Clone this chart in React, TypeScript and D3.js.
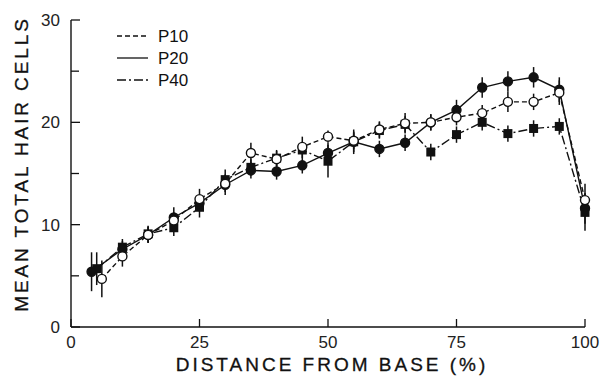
import React from "react";
import * as d3 from "d3";

const xTicks = [0, 25, 50, 75, 100];
const yTicks = [0, 10, 20, 30];
const yMinor = [5, 15, 25];

const seriesNames = ["P10", "P20", "P40"];

const p10X = [6, 10, 15, 20, 25, 30, 35, 40, 45, 50, 55, 60, 65, 70, 75, 80, 85, 90, 95, 100];
const p10Y = [4.7, 6.9, 9.0, 10.4, 12.5, 14.0, 17.0, 16.4, 17.6, 18.6, 18.2, 19.3, 19.9, 20.0, 20.5, 20.9, 22.0, 22.0, 22.9, 12.4];
const p10Err = [1.8, 1.0, 0.8, 0.8, 1.0, 0.8, 1.0, 0.8, 1.0, 0.6, 0.8, 0.8, 1.0, 0.8, 0.8, 0.8, 1.0, 0.8, 1.2, 1.6];

const p20X = [4, 10, 15, 20, 25, 30, 35, 40, 45, 50, 55, 60, 65, 70, 75, 80, 85, 90, 95, 100];
const p20Y = [5.4, 7.6, 9.0, 10.7, 12.1, 13.9, 15.3, 15.2, 15.8, 17.0, 18.1, 17.4, 18.0, 20.0, 21.2, 23.4, 24.0, 24.4, 23.2, 11.6];
const p20Err = [1.9, 0.8, 0.8, 1.0, 0.8, 1.0, 0.8, 0.8, 0.8, 1.0, 1.2, 0.8, 0.8, 0.8, 1.0, 1.0, 1.0, 1.0, 1.2, 1.5];

const p40X = [5, 10, 15, 20, 25, 30, 35, 40, 45, 50, 55, 60, 65, 70, 75, 80, 85, 90, 95, 100];
const p40Y = [5.7, 7.8, 9.1, 9.7, 11.7, 14.4, 15.6, 16.5, 17.3, 16.2, 18.1, 19.2, 19.8, 17.1, 18.8, 20.0, 18.9, 19.4, 19.6, 11.2];
const p40Err = [1.6, 0.8, 0.8, 0.8, 1.0, 1.0, 0.8, 0.8, 0.8, 1.6, 1.0, 0.8, 0.8, 0.8, 0.8, 0.8, 0.8, 0.8, 0.8, 1.8];

const W = 610;
const H = 378;
const x = d3.scaleLinear().domain([0, 100]).range([71, 585]);
const y = d3.scaleLinear().domain([0, 30]).range([327, 20]);

type Pt = { x: number; y: number; e: number };
const mk = (xs: number[], ys: number[], es: number[]): Pt[] =>
  xs.map((v, i) => ({ x: v, y: ys[i], e: es[i] }));

const series = [
  { name: seriesNames[0], pts: mk(p10X, p10Y, p10Err), dash: "5,3", marker: "open" },
  { name: seriesNames[1], pts: mk(p20X, p20Y, p20Err), dash: "none", marker: "filled" },
  { name: seriesNames[2], pts: mk(p40X, p40Y, p40Err), dash: "9,3,2,3", marker: "square" },
];

const line = d3
  .line<Pt>()
  .x((d) => x(d.x))
  .y((d) => y(d.y));

const font = "'Liberation Sans', Arial, Helvetica, sans-serif";

export default function App() {
  const drawOrder = [series[2], series[1], series[0]];
  return (
    <svg
      width={W}
      height={H}
      style={{ position: "absolute", left: 0, top: 0, background: "#fff" }}
      fontFamily={font}
    >
      {/* axes */}
      <line x1={x(0)} x2={x(0)} y1={y(0)} y2={y(30)} stroke="#111" strokeWidth={1.4} />
      <line x1={x(0)} x2={x(100)} y1={y(0)} y2={y(0)} stroke="#111" strokeWidth={1.4} />
      {yTicks.map((t) => (
        <g key={"yt" + t}>
          <line x1={x(0)} x2={x(0) + 9} y1={y(t)} y2={y(t)} stroke="#111" strokeWidth={1.3} />
          <text x={x(0) - 11} y={y(t) + 6} textAnchor="end" fontSize={17} fill="#222">
            {t}
          </text>
        </g>
      ))}
      {yMinor.map((t) => (
        <line key={"ym" + t} x1={x(0)} x2={x(0) + 8} y1={y(t)} y2={y(t)} stroke="#111" strokeWidth={1.3} />
      ))}
      {xTicks.map((t) => (
        <g key={"xt" + t}>
          <line x1={x(t)} x2={x(t)} y1={y(0)} y2={y(0) - 8} stroke="#111" strokeWidth={1.3} />
          <text x={x(t)} y={y(0) + 21} textAnchor="middle" fontSize={17} fill="#222">
            {t}
          </text>
        </g>
      ))}
      <text
        x={332}
        y={371}
        textAnchor="middle"
        fontSize={19}
        letterSpacing={3}
        fill="#111"
        stroke="#111"
        strokeWidth={0.3}
      >
        DISTANCE FROM BASE (%)
      </text>
      <text
        transform={`translate(28,164) rotate(-90)`}
        textAnchor="middle"
        fontSize={19}
        letterSpacing={2.9}
        fill="#111"
        stroke="#111"
        strokeWidth={0.3}
      >
        MEAN TOTAL HAIR CELLS
      </text>

      {/* lines */}
      {drawOrder.map((s) => (
        <path
          key={"l" + s.name}
          d={line(s.pts) || ""}
          fill="none"
          stroke="#111"
          strokeWidth={1.4}
          strokeDasharray={s.dash}
        />
      ))}
      {/* error bars */}
      {drawOrder.map((s) =>
        s.pts.map((p, i) => (
          <line
            key={"e" + s.name + i}
            x1={x(p.x)}
            x2={x(p.x)}
            y1={y(p.y - p.e)}
            y2={y(p.y + p.e)}
            stroke="#111"
            strokeWidth={1.5}
          />
        ))
      )}
      {/* markers */}
      {drawOrder.map((s) =>
        s.pts.map((p, i) =>
          s.marker === "square" ? (
            <rect
              key={"m" + s.name + i}
              x={x(p.x) - 4.5}
              y={y(p.y) - 4.5}
              width={9}
              height={9}
              fill="#111"
            />
          ) : (
            <circle
              key={"m" + s.name + i}
              cx={x(p.x)}
              cy={y(p.y)}
              r={4.5}
              fill={s.marker === "open" ? "#fff" : "#111"}
              stroke="#111"
              strokeWidth={1.4}
            />
          )
        )
      )}

      {/* legend */}
      {series.map((s, i) => (
        <g key={"lg" + s.name}>
          <line
            x1={117}
            x2={148}
            y1={36 + i * 22}
            y2={36 + i * 22}
            stroke="#111"
            strokeWidth={1.3}
            strokeDasharray={s.dash}
          />
          <text x={158} y={36 + i * 22 + 6} fontSize={17} fill="#111">
            {s.name}
          </text>
        </g>
      ))}
    </svg>
  );
}
